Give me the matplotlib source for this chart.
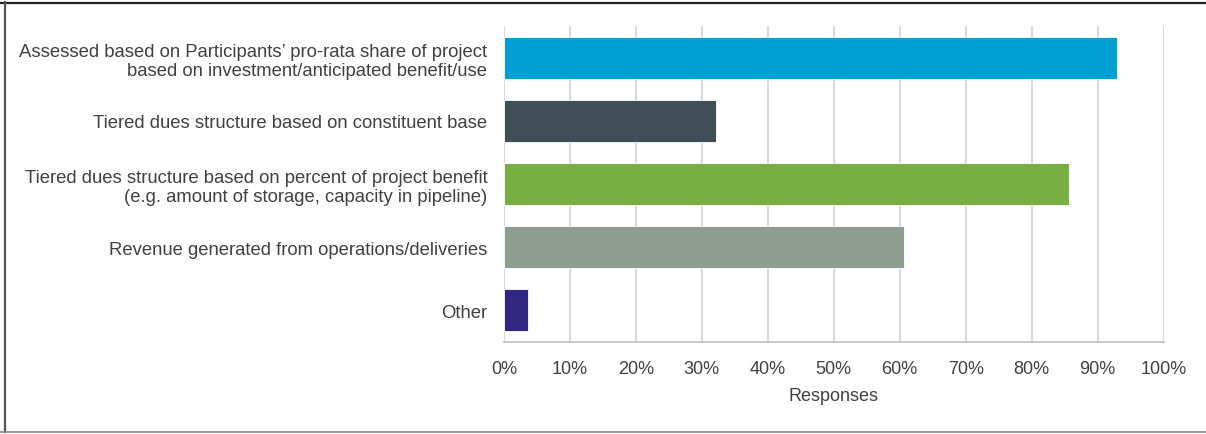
import matplotlib.pyplot as plt
from matplotlib.lines import Line2D
from matplotlib.ticker import PercentFormatter
import numpy as np

categories = [
    'Assessed based on Participants\u2019 pro-rata share of project\nbased on investment/anticipated benefit/use',
    'Tiered dues structure based on constituent base',
    'Tiered dues structure based on percent of project benefit\n(e.g. amount of storage, capacity in pipeline)',
    'Revenue generated from operations/deliveries',
    'Other',
]
responses = [92.9, 32.1, 85.7, 60.7, 3.6]
colors = ['#00A0D2', '#404E57', '#77AF43', '#8F9C91', '#312783']

plt.rcParams['font.family'] = ['Liberation Sans', 'DejaVu Sans']
plt.rcParams['font.size'] = 13
text_color = '#404040'

fig = plt.figure(figsize=(12.06, 4.35), dpi=100)
ax = fig.add_axes([504 / 1206, 1 - 343 / 435, 659.5 / 1206, 316 / 435])

y = np.arange(len(categories))
ax.barh(y, responses, height=0.667, color=colors, edgecolor='white', linewidth=0.6, zorder=3)
ax.set_ylim(len(categories) - 0.5, -0.5)
ax.set_xlim(0, 100)
ax.set_xticks(np.arange(0, 101, 10))
ax.xaxis.set_major_formatter(PercentFormatter(decimals=0))
ax.set_yticks(y)
ax.set_yticklabels(categories, color=text_color, linespacing=1.15, fontsize=13.3)
ax.tick_params(axis='y', length=0, pad=12)
ax.tick_params(axis='x', length=0, pad=13, colors=text_color)
ax.set_xlabel('Responses', color=text_color, labelpad=7)

ax.grid(axis='x', color='#d9d9d9', linewidth=1.5, zorder=0)
for side in ['top', 'right', 'left']:
    ax.spines[side].set_visible(False)
ax.spines['bottom'].set_color('#bfbfbf')
ax.spines['bottom'].set_linewidth(1.2)

# outer frame (top, left, bottom)
fig.add_artist(Line2D([0, 1], [1 - 3.5 / 435, 1 - 3.5 / 435], color='#222222', linewidth=1.6))
fig.add_artist(Line2D([5 / 1206, 5 / 1206], [2 / 435, 1 - 3 / 435], color='#555555', linewidth=1.6))
fig.add_artist(Line2D([0, 1], [2 / 435, 2 / 435], color='#888888', linewidth=1.2))

plt.savefig('out.png', dpi=100, facecolor='white')
